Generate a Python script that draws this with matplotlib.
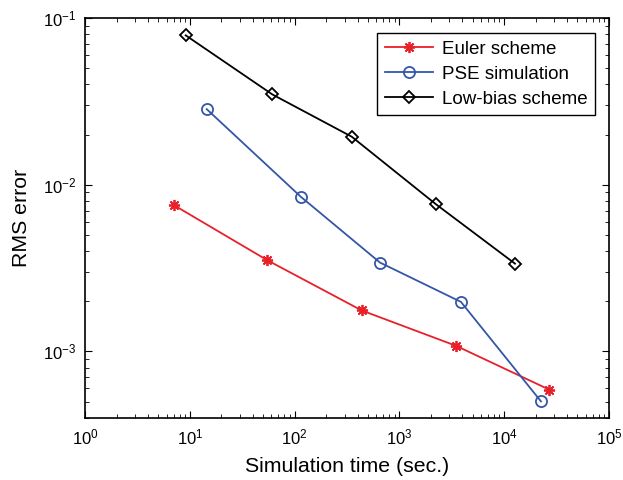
import matplotlib
matplotlib.use("Agg")
import matplotlib.pyplot as plt

plt.rcParams['font.family'] = ['Liberation Sans', 'DejaVu Sans']
plt.rcParams['mathtext.fontset'] = 'custom'
plt.rcParams['mathtext.rm'] = 'Liberation Sans'
plt.rcParams['mathtext.it'] = 'Liberation Sans:italic'
plt.rcParams['mathtext.default'] = 'rm'

euler_t = [7.0, 55, 437, 3470, 26960]
euler_err = [7.56e-3, 3.52e-3, 1.76e-3, 1.08e-3, 5.89e-4]

pse_t = [14.5, 115, 653, 3870, 22450]
pse_err = [2.84e-2, 8.45e-3, 3.41e-3, 1.98e-3, 5.01e-4]

lowbias_t = [9.14, 61.3, 351, 2234, 12680]
lowbias_err = [7.87e-2, 3.48e-2, 1.94e-2, 7.63e-3, 3.36e-3]

fig = plt.figure(figsize=(6.23, 4.8), dpi=100)
ax = fig.add_axes([0.1364, 0.1298, 0.8411, 0.8327])

ax.loglog(euler_t, euler_err, color="#e8202a", marker=(8, 2, 0), markersize=8,
          markeredgewidth=1.3, linewidth=1.3, label="Euler scheme")
ax.loglog(pse_t, pse_err, color="#3455a8", marker="o", markersize=8,
          markerfacecolor="none", markeredgewidth=1.3, linewidth=1.3,
          label="PSE simulation")
ax.loglog(lowbias_t, lowbias_err, color="black", marker="D", markersize=6.5,
          markerfacecolor="none", markeredgewidth=1.3, linewidth=1.3,
          label="Low-bias scheme")

ax.set_xlim(1, 1e5)
ax.set_ylim(4e-4, 1e-1)

ax.tick_params(which="both", direction="in", top=True, right=True, labelsize=12)
ax.tick_params(which="major", length=5)
ax.tick_params(which="minor", length=3)
ax.tick_params(axis="x", which="both", pad=7)
ax.tick_params(axis="y", which="both", pad=6)
for s in ax.spines.values():
    s.set_linewidth(1.2)

ax.set_xlabel("Simulation time (sec.)", fontsize=15.3, labelpad=7)
ax.set_ylabel("RMS error", fontsize=15.3, labelpad=9)

leg = ax.legend(loc="upper right", fontsize=13.5, fancybox=False, framealpha=1,
                edgecolor="black", bbox_to_anchor=(0.973, 0.9625),
                borderaxespad=0, handlelength=2.6, labelspacing=0.42,
                borderpad=0.4, handletextpad=0.45)
leg.get_frame().set_linewidth(1.0)

fig.savefig("out.png", dpi=100)
